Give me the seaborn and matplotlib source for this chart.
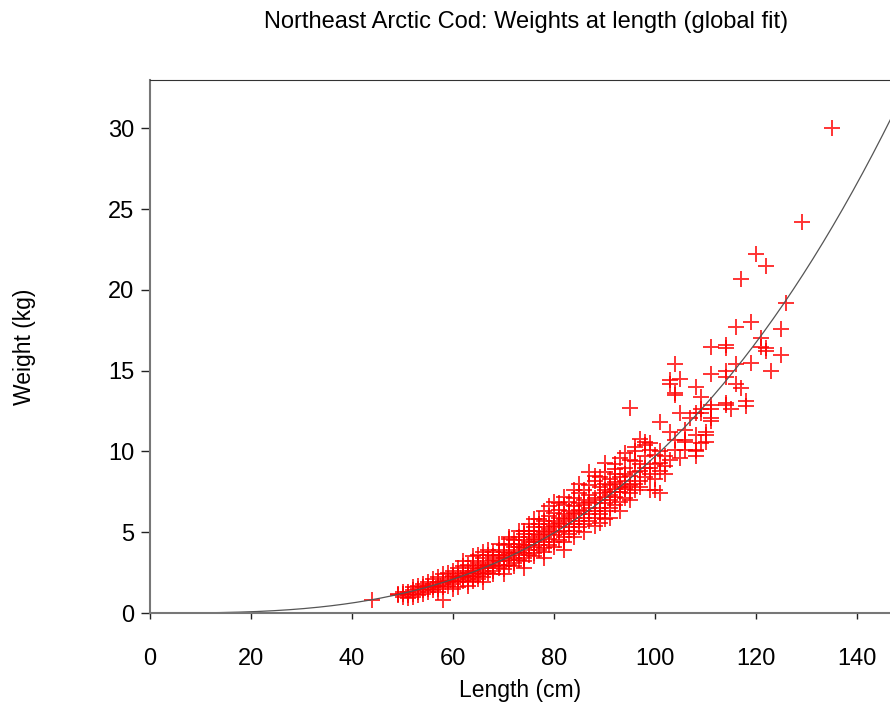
import numpy as np
import pandas as pd
import matplotlib
matplotlib.use("Agg")
import matplotlib.pyplot as plt
import seaborn as sns

# -----------------------------
# Data
# -----------------------------
length_cm = [44, 49, 50, 51, 52, 53, 54, 55, 56, 57, 58, 59, 60,
             61, 62, 63, 64, 65, 66, 67, 68, 69, 70,
             71, 72, 73, 74, 75, 76, 77, 78, 79, 80,
             81, 82, 83, 84, 85, 86, 87, 88, 89, 90,
             91, 92, 93, 94, 95, 96, 97, 98, 99, 100,
             101, 102, 103, 104, 105, 106, 107, 108, 109, 110,
             111, 114, 115, 116, 117, 118, 119, 120,
             121, 122, 123, 125, 126, 129, 135]

weight_kg = [
    [0.8],
    [1.1, 1.2],
    [1.0, 1.2, 1.3],
    [1.1, 1.3, 0.9],
    [1.2, 1.4, 1.6, 1.0],
    [1.3, 1.5, 1.7, 1.1],
    [1.4, 1.6, 1.8, 1.2],
    [1.5, 1.7, 1.9, 1.3, 1.6],
    [1.6, 1.8, 2.1, 1.4, 1.7],
    [1.7, 1.9, 2.2, 1.5, 1.3],
    [1.8, 2.0, 2.4, 1.6, 0.8, 1.9],
    [1.9, 2.1, 2.5, 1.7, 2.0],
    [2.0, 2.2, 2.6, 1.8, 1.5, 2.3],
    [2.1, 2.4, 2.8, 1.9, 2.2, 1.6],
    [2.2, 2.5, 2.9, 2.0, 2.3, 3.2],
    [2.3, 2.6, 3.0, 2.1, 2.5, 1.9, 1.7],
    [2.4, 2.8, 3.2, 2.2, 2.6, 2.0, 3.5],
    [2.5, 2.9, 3.6, 2.3, 2.7, 2.1, 3.1],
    [2.6, 3.0, 3.4, 2.4, 2.8, 2.2, 3.8, 1.9],
    [2.8, 3.2, 3.6, 2.5, 2.9, 3.0, 3.9],
    [2.9, 3.3, 3.8, 2.6, 3.1, 2.4, 3.5],
    [3.0, 3.4, 3.9, 2.8, 3.2, 3.6, 4.3],
    [3.2, 3.6, 4.2, 2.9, 3.4, 2.7, 3.8, 2.4],
    [3.3, 3.7, 4.3, 3.0, 3.5, 4.6, 4.7],
    [3.4, 3.9, 4.5, 3.1, 3.7, 2.9, 4.1],
    [3.6, 4.1, 4.7, 3.3, 3.8, 4.3, 5.1],
    [3.7, 4.2, 4.9, 3.4, 4.0, 3.2, 4.5, 5.1, 2.8],
    [3.9, 4.4, 5.1, 3.6, 4.2, 4.7, 5.5],
    [4.1, 4.6, 5.3, 3.7, 4.4, 3.5, 4.9, 5.8],
    [4.2, 4.8, 5.5, 3.9, 4.5, 5.1, 5.8],
    [4.4, 5.0, 5.7, 4.0, 4.7, 3.8, 5.3, 6.3, 3.4],
    [4.6, 5.2, 6.0, 4.2, 4.9, 5.5, 6.6],
    [4.8, 5.4, 6.2, 4.4, 5.1, 4.1, 5.7, 6.9],
    [5.0, 5.6, 6.4, 4.5, 5.3, 5.9, 6.8],
    [5.1, 5.8, 6.7, 4.7, 5.5, 4.4, 6.1, 7.2, 3.9],
    [5.3, 6.0, 6.9, 4.9, 5.7, 6.3],
    [5.5, 6.2, 7.1, 5.1, 5.9, 4.7, 6.6, 7.6],
    [5.7, 6.4, 7.4, 5.3, 6.1, 6.8, 8.0],
    [5.9, 6.7, 7.6, 5.5, 6.3, 5.0, 7.0],
    [6.1, 6.9, 7.9, 5.7, 6.5, 8.7, 7.3],
    [6.3, 7.1, 8.2, 5.9, 6.8, 5.4, 8.5],
    [6.5, 7.4, 8.4, 6.1, 7.0, 7.8, 5.6],
    [6.8, 7.6, 8.7, 6.3, 7.2, 5.8, 8.0, 9.3],
    [7.0, 7.9, 7.3, 6.5, 7.5, 8.3, 5.9],
    [7.2, 8.1, 7.5, 6.7, 7.7, 8.6, 9.2, 8.9],
    [7.5, 8.4, 7.8, 6.9, 8.0, 9.6, 6.3],
    [7.7, 8.6, 7.8, 7.1, 8.2, 9.0, 9.9],
    [7.9, 9.5, 12.7, 7.4, 8.5, 7.0],
    [8.0, 9.4, 8.7, 7.6, 10.0, 10.3],
    [8.2, 9.2, 8.8, 7.8, 10.8],
    [8.4, 9.7, 9.0, 10.4, 10.6],
    [7.6, 9.0, 10.1, 10.5, 8.6],
    [8.3, 9.8, 9.2, 7.6],
    [8.8, 9.3, 10.0, 11.8, 7.4],
    [8.6, 9.7, 9.1],
    [9.5, 11.2, 14.2, 14.4],
    [10.1, 10.7, 13.5, 15.4, 13.6],
    [12.4, 14.5, 9.6],
    [10.1, 10.6, 11.3, 10.7],
    [12.1],
    [9.7, 10.1, 11.0, 12.4, 14.0, 10.0],
    [10.5, 12.6, 13.4, 12.4],
    [10.6, 11.0, 11.2],
    [12.1, 12.6, 12.9, 14.8, 16.5, 11.9],
    [13.0, 14.6, 15.0, 16.4, 16.6, 12.9],
    [12.6],
    [14.2, 15.4, 17.7],
    [13.9, 20.7],
    [12.8, 13.1],
    [15.5, 18.0],
    [22.2],
    [16.5, 17.0],
    [16.2, 16.4, 21.5],
    [15.0],
    [16.0, 17.6],
    [19.2],
    [24.2],
    [30.0],
]

# global length-weight fit  W = a * L^b
fit_a = 9.7e-6
fit_b = 3.0

x_ticks = [0, 20, 40, 60, 80, 100, 120, 140]
y_ticks = [0, 5, 10, 15, 20, 25, 30]

# -----------------------------
# Build tables
# -----------------------------
df = pd.DataFrame({"length": length_cm, "weight": weight_kg}).explode("weight")
df["weight"] = df["weight"].astype(float)

curve_len = np.linspace(0, 147, 300)
curve = pd.DataFrame({"length": curve_len, "weight": fit_a * curve_len ** fit_b})

# -----------------------------
# Plot
# -----------------------------
sns.set_style("ticks")
plt.rcParams["font.family"] = ["Liberation Sans", "DejaVu Sans"]
plt.rcParams["text.color"] = "black"
plt.rcParams["axes.labelcolor"] = "black"

fig = plt.figure(figsize=(8.9, 7.11), dpi=100)
ax = fig.add_axes([150 / 890, 98 / 711, 740 / 890, 533 / 711])

sns.lineplot(data=curve, x="length", y="weight", color="#555555",
             linewidth=0.9, ax=ax)

sns.scatterplot(data=df, x="length", y="weight", marker="+", color="red",
                s=145, linewidth=1.4, alpha=0.8, ax=ax)

ax.set_xlim(0, 146.5)
ax.set_ylim(0, 33)
ax.set_xticks(x_ticks)
ax.set_yticks(y_ticks)

ax.spines["right"].set_visible(False)
ax.spines["top"].set_color("#333333")
ax.spines["top"].set_linewidth(0.8)
for side in ["left", "bottom"]:
    ax.spines[side].set_color("#777777")
    ax.spines[side].set_linewidth(1.5)

ax.tick_params(axis="x", direction="out", length=4.5, width=1,
               color="#222222", labelcolor="black", labelsize=17, pad=21)
ax.tick_params(axis="y", direction="out", length=6.5, width=1,
               color="#222222", labelcolor="black", labelsize=17, pad=5)

ax.set_xlabel("Length (cm)", fontsize=16.5)
ax.xaxis.set_label_coords(0.5, -77 / 533)
ax.xaxis.label.set_va("center")
ax.set_ylabel("Weight (kg)", fontsize=16.5)
ax.yaxis.set_label_coords(-125 / 740, 0.5)
ax.yaxis.label.set_va("center")

fig.text(526 / 890, 1 - 22 / 711,
         "Northeast Arctic Cod: Weights at length (global fit)",
         ha="center", va="center", fontsize=17)

fig.savefig("out.png", dpi=100)
plt.close(fig)
